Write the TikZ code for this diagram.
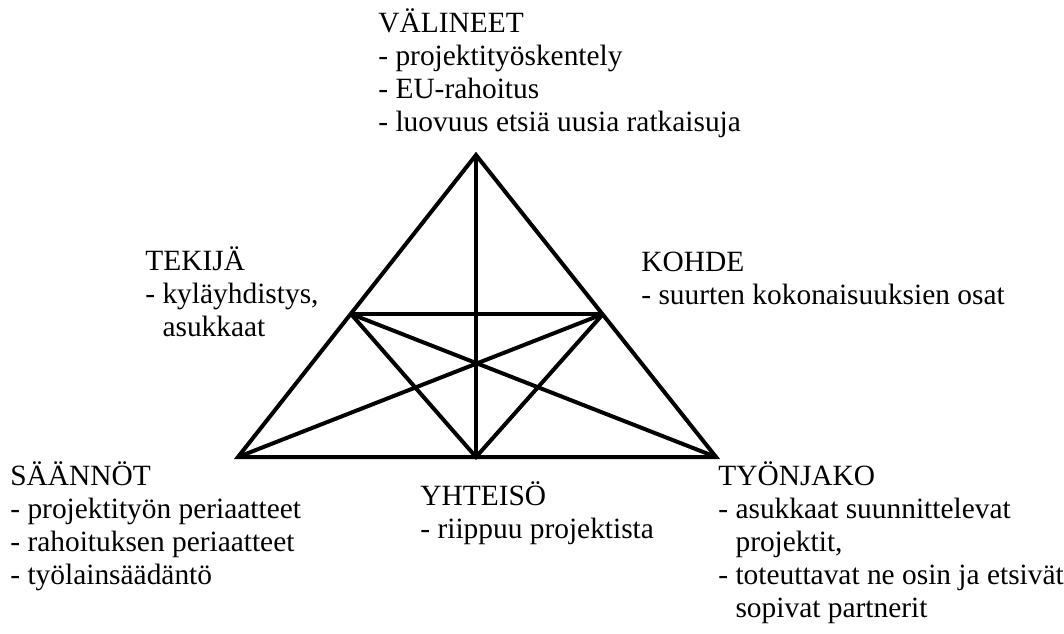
\documentclass[tikz,border=0pt]{standalone}
\usepackage{fontspec}
\setmainfont{Liberation Serif}
\usetikzlibrary{positioning}

\begin{document}
\begin{tikzpicture}[x=0.5pt, y=-0.5pt,
      lbl/.style={anchor=base west, inner sep=0pt, align=left,
                  font=\fontsize{14.7}{16.5}\selectfont},
      edge/.style={line width=2pt}]

    \useasboundingbox (0,0) rectangle (1064,633);

    % corner and side points of the triangle
    \coordinate (top) at (476, 155);
    \coordinate (bl)  at (238, 457);
    \coordinate (br)  at (716, 457);
    \coordinate (bm)  at (476, 457);
    \coordinate (ml)  at (351, 314);
    \coordinate (mr)  at (603, 314);

    % outer triangle and inner links
    \draw[edge] (top) -- (bl) -- (br) -- cycle;
    \draw[edge] (top) -- (bm);
    \draw[edge] (ml) -- (mr);
    \draw[edge] (ml) -- (bm) -- (mr);
    \draw[edge] (ml) -- (br);
    \draw[edge] (mr) -- (bl);

    % labels (placed at the baseline of their last line)
    \node[lbl] (inst) at (378, 131)
      {VÄLINEET\\- projektityöskentely\\- EU-rahoitus\\- luovuus etsiä uusia ratkaisuja};
    \node[lbl] (subj) at (145, 336)
      {TEKIJÄ\\- kyläyhdistys,\\\phantom{- }asukkaat};
    \node[lbl] (obj)  at (641, 304)
      {KOHDE\\- suurten kokonaisuuksien osat};
    \node[lbl] (rule) at (10, 584)
      {SÄÄNNÖT\\- projektityön periaatteet\\- rahoituksen periaatteet\\- työlainsäädäntö};
    \node[lbl] (comm) at (420, 538)
      {YHTEISÖ\\- riippuu projektista};
    \node[lbl] (div)  at (718, 617)
      {TYÖNJAKO\\- asukkaat suunnittelevat\\\phantom{- }projektit,\\- toteuttavat ne osin ja etsivät\\\phantom{- }sopivat partnerit};

\end{tikzpicture}
\end{document}
